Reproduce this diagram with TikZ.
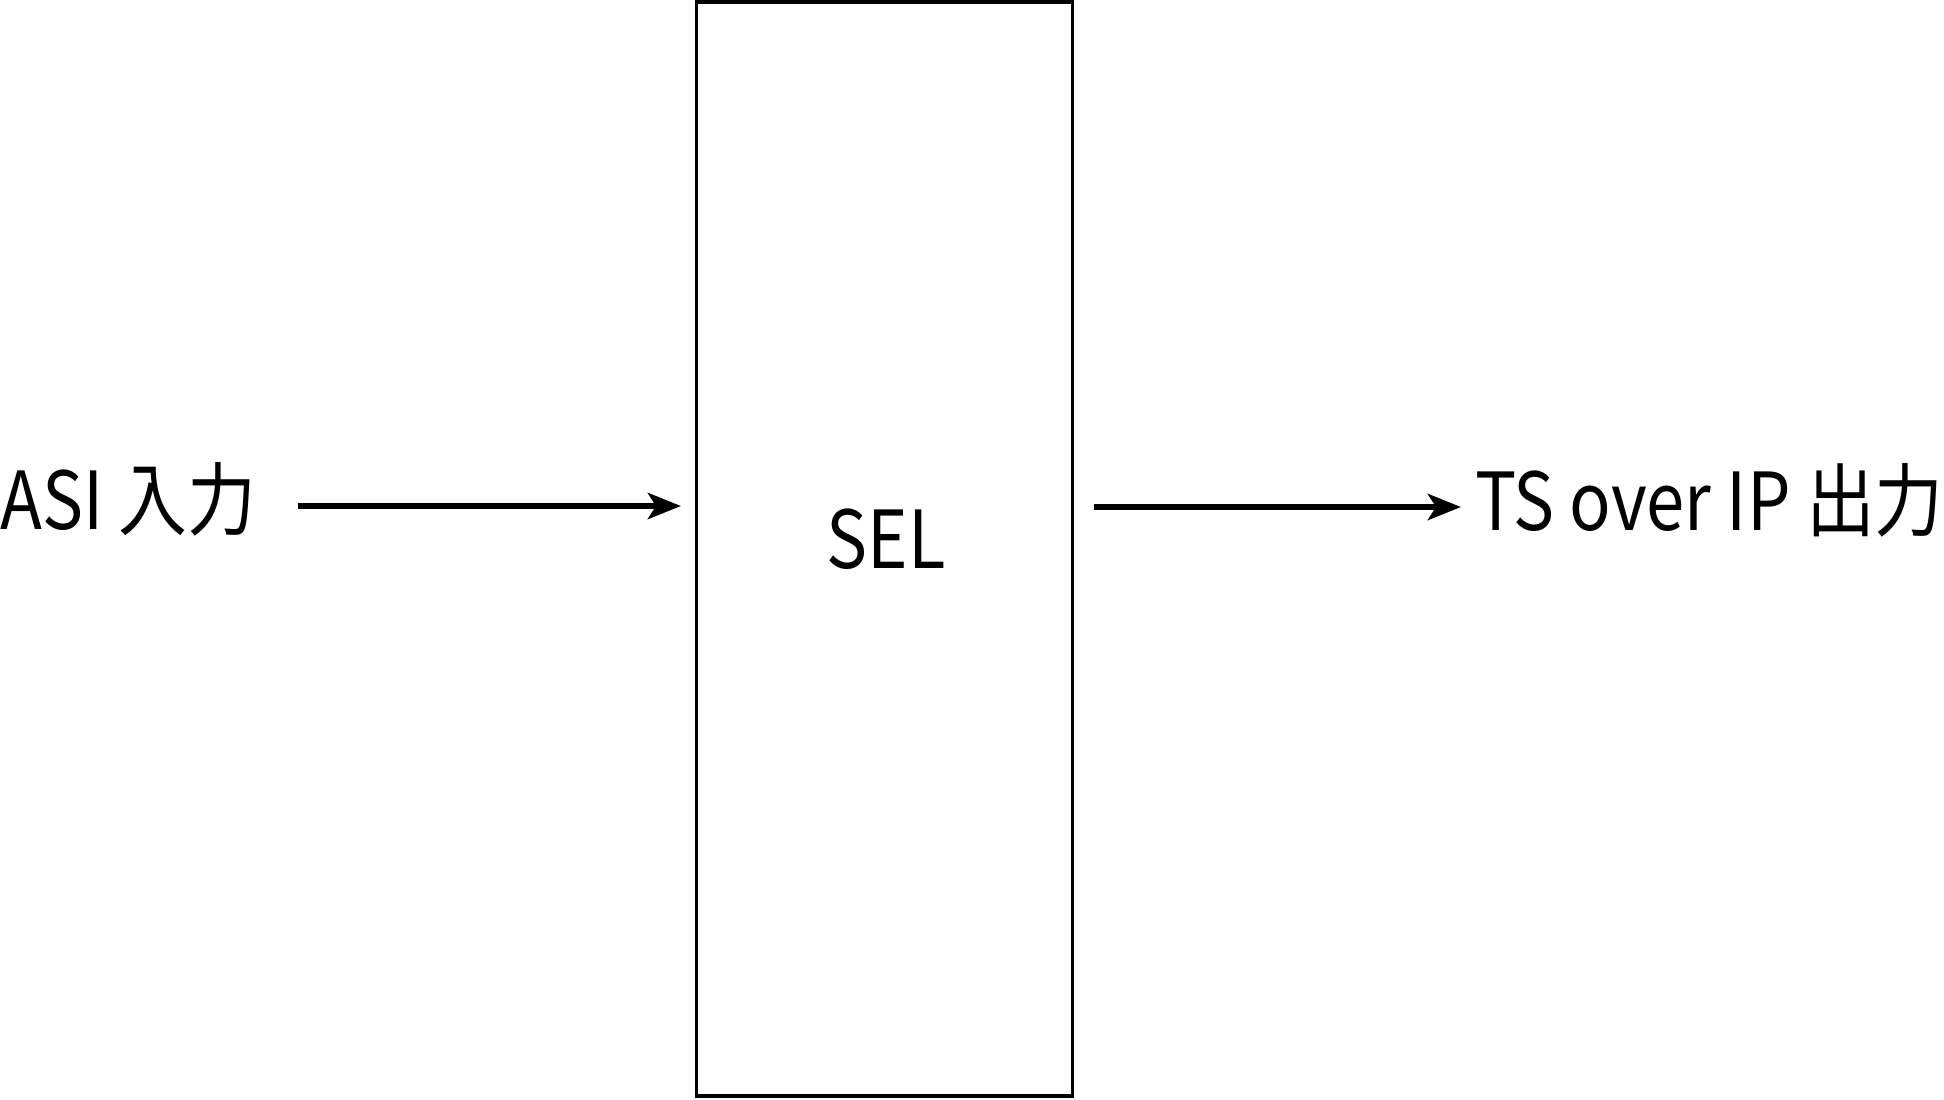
\documentclass[tikz,border=0pt]{standalone}
\usepackage{fontspec}
\setmainfont{Noto Sans CJK JP}
\usetikzlibrary{arrows.meta}
\newcommand{\narrowtext}[1]{\scalebox{0.86}[1]{#1}}
\begin{document}
\begin{tikzpicture}[x=0.5pt,y=-0.5pt,
  lbl/.style={inner sep=0pt, font=\fontsize{40}{48}\selectfont},
  blk/.style={draw=black, line width=1.8pt, inner sep=0pt, minimum width=188pt, minimum height=547pt},
  arr/.style={line width=3.3pt, -{Stealth[length=16.5pt, width=13pt, inset=4pt]}}]
\useasboundingbox (0,0) rectangle (1944,1099);
\node[blk] (box) at (884.5,549.25) {};
\node[lbl, anchor=base] (sel) at (886,568) {\narrowtext{SEL}};
\node[lbl, anchor=base west] (asi) at (0,529) {\narrowtext{ASI 入力}};
\node[lbl, anchor=base east] (ts) at (1944,530.5) {\narrowtext{TS over IP 出力}};
\coordinate (a1) at (297.5,506);
\coordinate (a2) at (681,506);
\coordinate (b1) at (1093.5,507);
\coordinate (b2) at (1461,507);
\draw[arr] (a1) -- (a2);
\draw[arr] (b1) -- (b2);
\end{tikzpicture}
\end{document}
